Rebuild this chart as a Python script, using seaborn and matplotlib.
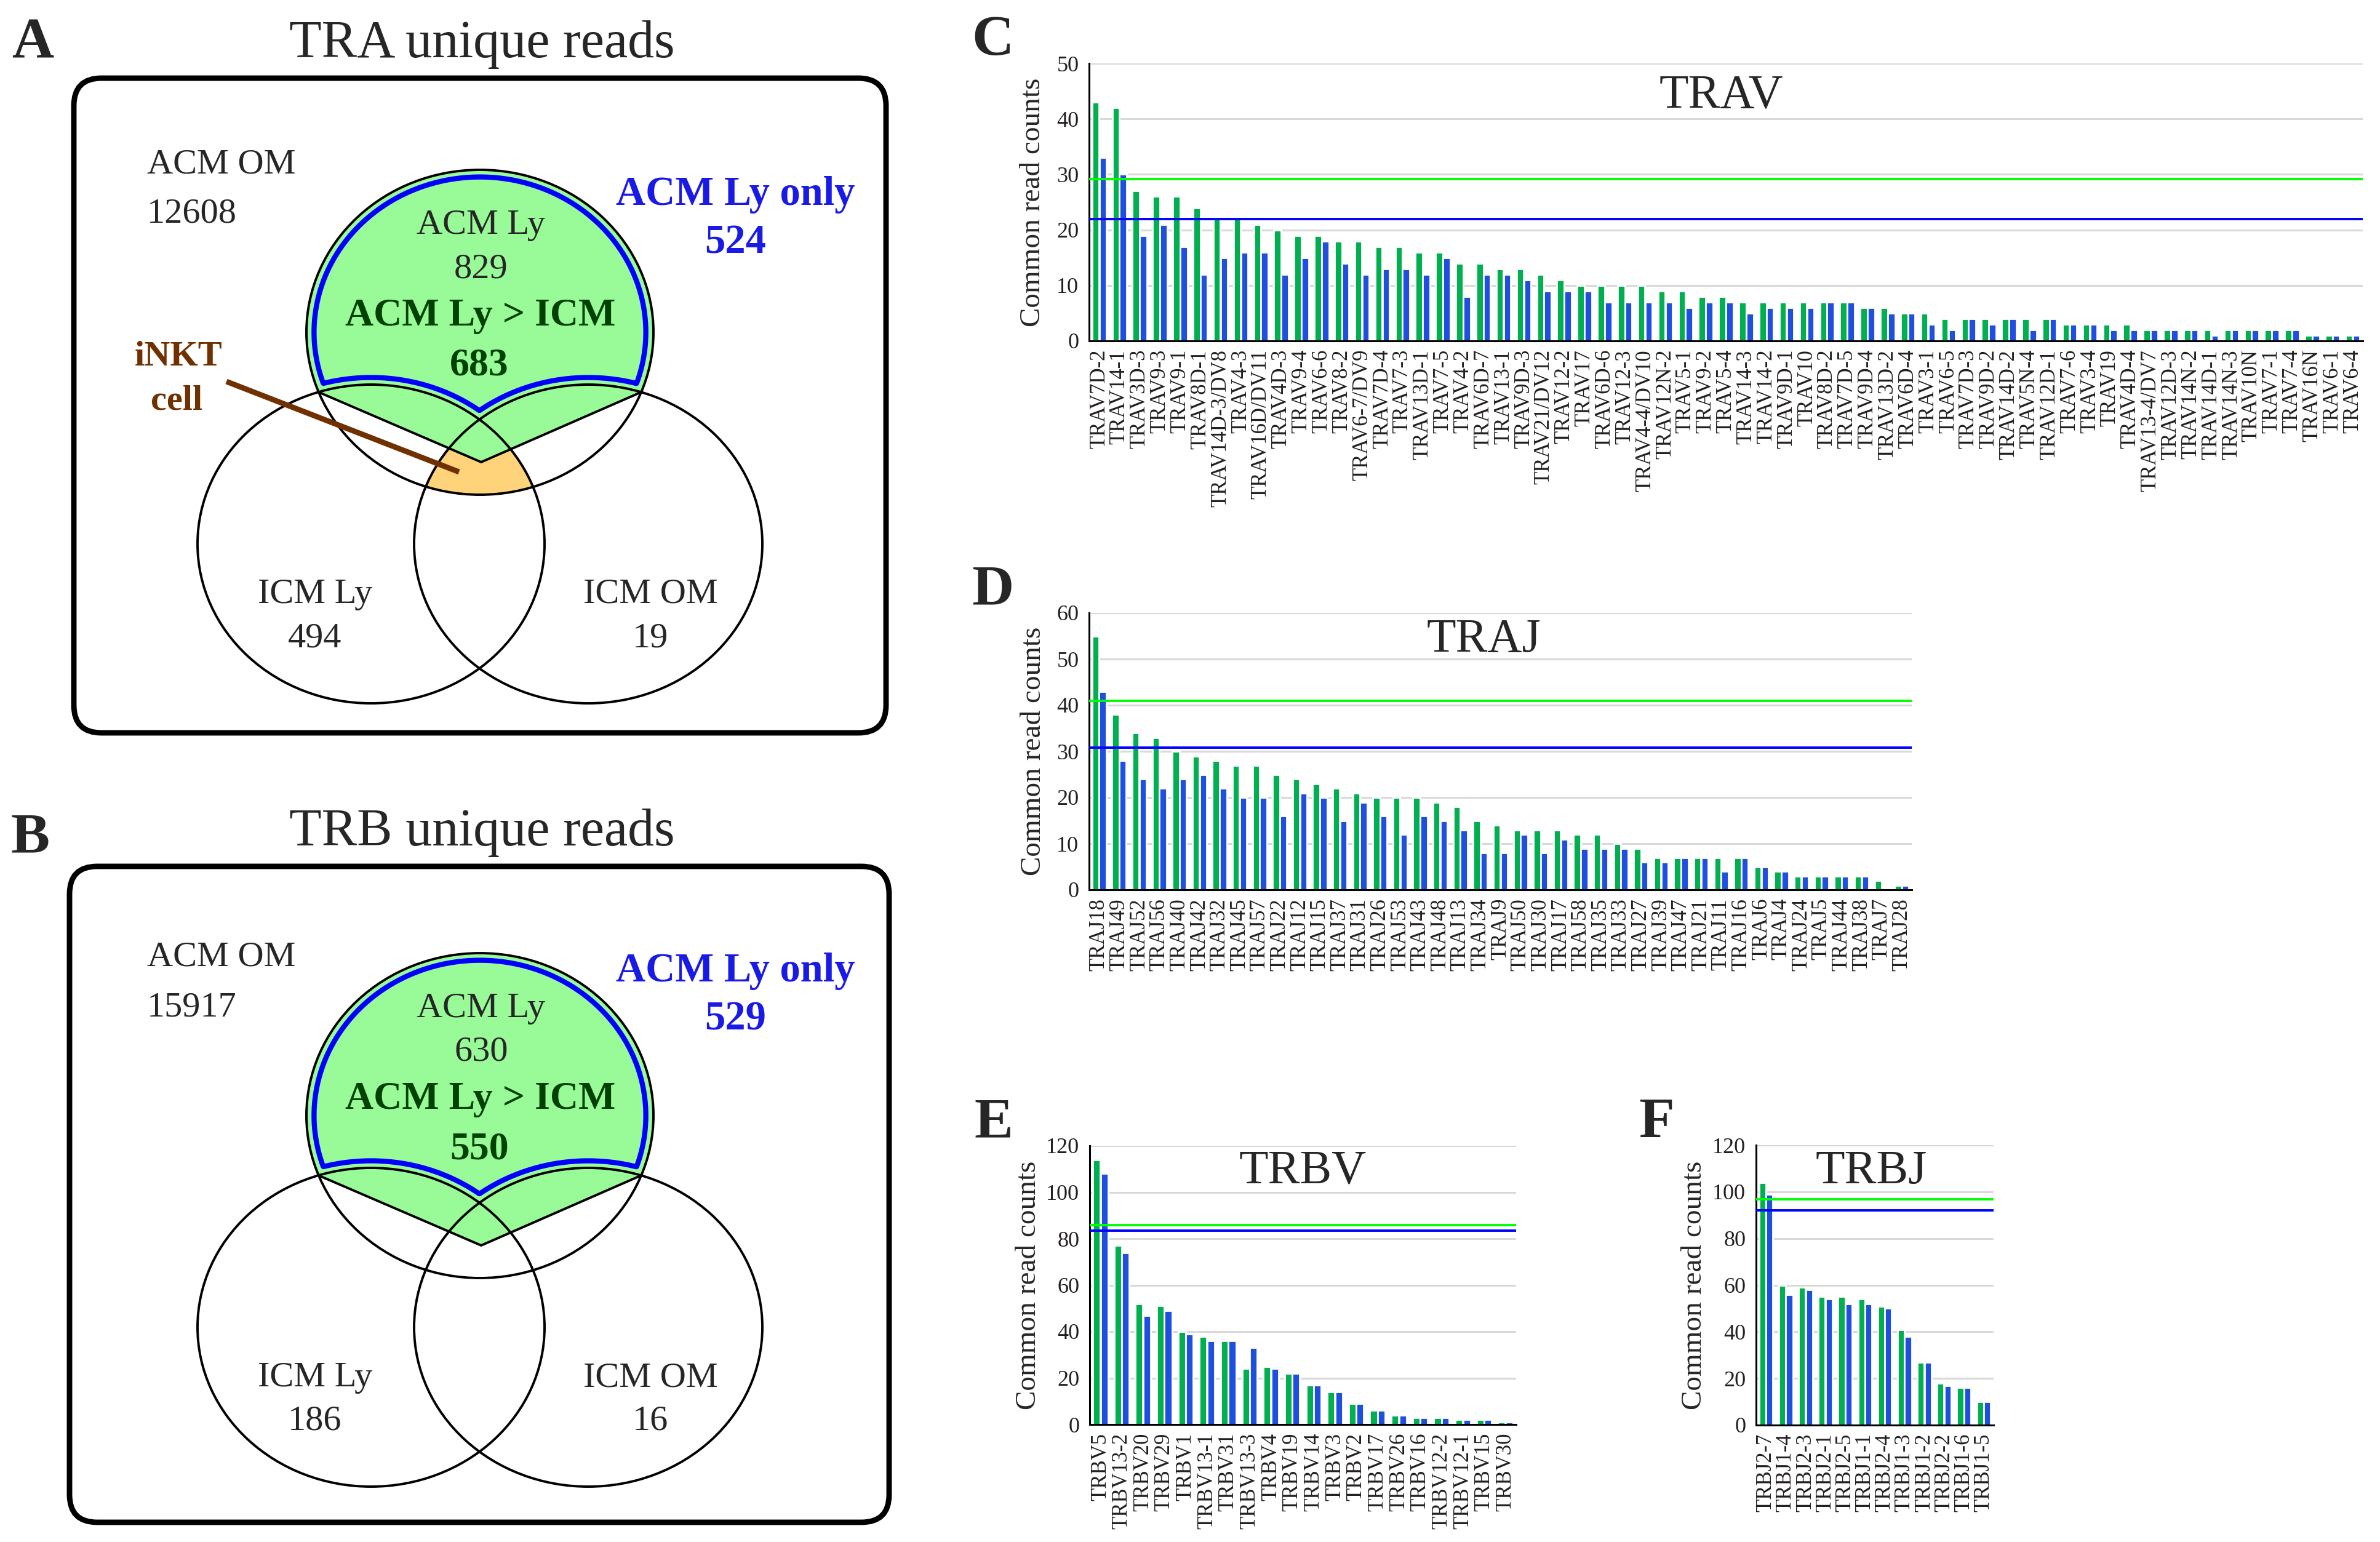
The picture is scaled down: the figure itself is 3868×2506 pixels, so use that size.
import numpy as np
import pandas as pd
import matplotlib
matplotlib.use('Agg')
import matplotlib.pyplot as plt
import seaborn as sns
from matplotlib.patches import Ellipse, FancyBboxPatch

# counts
tra_counts = [12608, 524, 829, 683, 494, 19]   # ACM OM, ACM Ly only, ACM Ly, ACM Ly > ICM, ICM Ly, ICM OM
trb_counts = [15917, 529, 630, 550, 186, 16]

trav_genes = ['TRAV7D-2', 'TRAV14-1', 'TRAV3D-3', 'TRAV9-3', 'TRAV9-1', 'TRAV8D-1', 'TRAV14D-3/DV8',
              'TRAV4-3', 'TRAV16D/DV11', 'TRAV4D-3', 'TRAV9-4', 'TRAV6-6', 'TRAV8-2', 'TRAV6-7/DV9',
              'TRAV7D-4', 'TRAV7-3', 'TRAV13D-1', 'TRAV7-5', 'TRAV4-2', 'TRAV6D-7', 'TRAV13-1', 'TRAV9D-3',
              'TRAV21/DV12', 'TRAV12-2', 'TRAV17', 'TRAV6D-6', 'TRAV12-3', 'TRAV4-4/DV10', 'TRAV12N-2',
              'TRAV5-1', 'TRAV9-2', 'TRAV5-4', 'TRAV14-3', 'TRAV14-2', 'TRAV9D-1', 'TRAV10', 'TRAV8D-2',
              'TRAV7D-5', 'TRAV9D-4', 'TRAV13D-2', 'TRAV6D-4', 'TRAV3-1', 'TRAV6-5', 'TRAV7D-3', 'TRAV9D-2',
              'TRAV14D-2', 'TRAV5N-4', 'TRAV12D-1', 'TRAV7-6', 'TRAV3-4', 'TRAV19', 'TRAV4D-4',
              'TRAV13-4/DV7', 'TRAV12D-3', 'TRAV14N-2', 'TRAV14D-1', 'TRAV14N-3', 'TRAV10N', 'TRAV7-1',
              'TRAV7-4', 'TRAV16N', 'TRAV6-1', 'TRAV6-4']
trav_acm = [43, 42, 27, 26, 26, 24, 22, 22, 21, 20, 19, 19, 18, 18, 17, 17, 16, 16, 14, 14, 13, 13, 12, 11,
            10, 10, 10, 10, 9, 9, 8, 8, 7, 7, 7, 7, 7, 7, 6, 6, 5, 5, 4, 4, 4, 4, 4, 4, 3, 3, 3, 3, 2, 2,
            2, 2, 2, 2, 2, 2, 1, 1, 1]
trav_icm = [33, 30, 19, 21, 17, 12, 15, 16, 16, 12, 15, 18, 14, 12, 13, 13, 12, 15, 8, 12, 12, 11, 9, 9,
            9, 7, 7, 7, 7, 6, 7, 7, 5, 6, 6, 6, 7, 7, 6, 5, 5, 3, 2, 4, 3, 4, 2, 4, 3, 3, 2, 2, 2, 2,
            2, 1, 2, 2, 2, 2, 1, 1, 1]
trav_lines = [29.2, 22.0]

traj_genes = ['TRAJ18', 'TRAJ49', 'TRAJ52', 'TRAJ56', 'TRAJ40', 'TRAJ42', 'TRAJ32', 'TRAJ45', 'TRAJ57',
              'TRAJ22', 'TRAJ12', 'TRAJ15', 'TRAJ37', 'TRAJ31', 'TRAJ26', 'TRAJ53', 'TRAJ43', 'TRAJ48',
              'TRAJ13', 'TRAJ34', 'TRAJ9', 'TRAJ50', 'TRAJ30', 'TRAJ17', 'TRAJ58', 'TRAJ35', 'TRAJ33',
              'TRAJ27', 'TRAJ39', 'TRAJ47', 'TRAJ21', 'TRAJ11', 'TRAJ16', 'TRAJ6', 'TRAJ4', 'TRAJ24',
              'TRAJ5', 'TRAJ44', 'TRAJ38', 'TRAJ7', 'TRAJ28']
traj_acm = [55, 38, 34, 33, 30, 29, 28, 27, 27, 25, 24, 23, 22, 21, 20, 20, 20, 19, 18, 15, 14, 13, 13, 13,
            12, 12, 10, 9, 7, 7, 7, 7, 7, 5, 4, 3, 3, 3, 3, 2, 1]
traj_icm = [43, 28, 24, 22, 24, 25, 22, 20, 20, 16, 21, 20, 15, 19, 16, 12, 16, 15, 13, 8, 8, 12, 8, 11,
            9, 9, 9, 6, 6, 7, 7, 4, 7, 5, 4, 3, 3, 3, 3, 0, 1]
traj_lines = [41.0, 30.8]

trbv_genes = ['TRBV5', 'TRBV13-2', 'TRBV20', 'TRBV29', 'TRBV1', 'TRBV13-1', 'TRBV31', 'TRBV13-3', 'TRBV4',
              'TRBV19', 'TRBV14', 'TRBV3', 'TRBV2', 'TRBV17', 'TRBV26', 'TRBV16', 'TRBV12-2', 'TRBV12-1',
              'TRBV15', 'TRBV30']
trbv_acm = [114, 77, 52, 51, 40, 38, 36, 24, 25, 22, 17, 14, 9, 6, 4, 3, 3, 2, 2, 1]
trbv_icm = [108, 74, 47, 49, 39, 36, 36, 33, 24, 22, 17, 14, 9, 6, 4, 3, 3, 2, 2, 1]
trbv_lines = [85.7, 83.4]

trbj_genes = ['TRBJ2-7', 'TRBJ1-4', 'TRBJ2-3', 'TRBJ2-1', 'TRBJ2-5', 'TRBJ1-1', 'TRBJ2-4', 'TRBJ1-3',
              'TRBJ1-2', 'TRBJ2-2', 'TRBJ1-6', 'TRBJ1-5']
trbj_acm = [104, 60, 59, 55, 55, 54, 51, 41, 27, 18, 16, 10]
trbj_icm = [99, 56, 58, 54, 52, 52, 50, 38, 27, 17, 16, 10]
trbj_lines = [96.7, 92.0]

W, H = 3868, 2506
DPI = 200

BAR_GREEN = '#00B050'
BAR_BLUE = '#1F4FDF'
LINE_GREEN = '#00FF00'
LINE_BLUE = '#0000FF'
FILL_GREEN = '#98FB98'
FILL_ORANGE = '#FFD37A'
TXT_BLUE = '#1A1AE6'
TXT_DKGREEN = '#004000'
BROWN = '#703000'

sns.set_style('white')
plt.rcParams['font.family'] = ['Liberation Serif', 'DejaVu Serif']

fig = plt.figure(figsize=(W / DPI, H / DPI), dpi=DPI)
bg = fig.add_axes([0, 0, 1, 1])
bg.set_xlim(0, W)
bg.set_ylim(H, 0)
bg.axis('off')


def ell_h(X, Y, e):
    # approx signed distance to ellipse, positive inside
    cx, cy, rx, ry = e
    return (1 - np.sqrt(((X - cx) / rx) ** 2 + ((Y - cy) / ry) ** 2)) * (rx + ry) / 2


def crossing(e, other, side):
    t = np.linspace(0, 2 * np.pi, 7200)
    px = e[0] + e[2] * np.cos(t)
    py = e[1] + e[3] * np.sin(t)
    q = ((px - other[0]) / other[2]) ** 2 + ((py - other[1]) / other[3]) ** 2 - 1
    idx = np.where(np.diff(np.sign(q)) != 0)[0]
    pts = [(px[i], py[i]) for i in idx]
    return min(pts) if side == 'left' else max(pts)


def draw_venn(dy, box, title, title_y, counts, inkt, om_dy=0, only_dy=0):
    bx0, by0, bx1, by1 = box
    bg.add_patch(FancyBboxPatch((bx0, by0), bx1 - bx0, by1 - by0,
                                boxstyle='round,pad=0,rounding_size=45',
                                fill=False, ec='black', lw=3.2, zorder=2))
    bg.text(783, title_y, title, fontsize=31, ha='center', va='baseline')

    top = (780, 540 + dy, 282, 264)
    bl = (603, 884 + dy, 282, 259)
    br = (956, 884 + dy, 283, 259)
    vx, vy = 782, 751 + dy

    xs = np.linspace(420, 1140, 900)
    ys = np.linspace(240 + dy, 1200 + dy, 1100)
    X, Y = np.meshgrid(xs, ys)
    h_top, h_bl, h_br = ell_h(X, Y, top), ell_h(X, Y, bl), ell_h(X, Y, br)

    xl, yl = crossing(top, bl, 'left')
    xr, yr = crossing(top, br, 'right')
    V = np.where(X < vx, vy + (X - vx) * (vy - yl) / (vx - xl),
                 vy + (X - vx) * (yr - vy) / (xr - vx))
    vf = V - Y

    green = np.minimum(h_top, vf)
    bg.contourf(X, Y, green, levels=[0, 1e5], colors=[FILL_GREEN], zorder=1)
    if inkt:
        orange = np.minimum(np.minimum(h_top, h_bl), np.minimum(h_br, -vf))
        bg.contourf(X, Y, orange, levels=[0, 1e5], colors=[FILL_ORANGE], zorder=1)

    for e in (top, bl, br):
        bg.add_patch(Ellipse((e[0], e[1]), 2 * e[2], 2 * e[3], fill=False,
                             ec='black', lw=1.4, zorder=3))
    bg.plot([xl, vx, xr], [yl, vy, yr], color='black', lw=1.4, zorder=3)

    only = np.minimum(h_top, np.minimum(-h_bl, -h_br))
    bg.contour(X, Y, only, levels=[12], colors=[LINE_BLUE], linewidths=3.0, zorder=4)

    acm_om, acm_only, acm_ly, acm_gt, icm_ly, icm_om = counts
    bg.text(239, 281 + dy + om_dy, 'ACM OM', fontsize=21, ha='left', va='baseline')
    bg.text(239, 362 + dy + om_dy, str(acm_om), fontsize=21, ha='left', va='baseline')
    bg.text(1195, 333 + dy + only_dy, 'ACM Ly only', fontsize=24, fontweight='bold',
            color=TXT_BLUE, ha='center', va='baseline')
    bg.text(1195, 412 + dy + only_dy, str(acm_only), fontsize=24, fontweight='bold',
            color=TXT_BLUE, ha='center', va='baseline')
    bg.text(782, 380 + dy, 'ACM Ly', fontsize=21, ha='center', va='baseline', zorder=5)
    bg.text(782, 451 + dy, str(acm_ly), fontsize=21, ha='center', va='baseline', zorder=5)
    bg.text(781, 529 + dy, 'ACM Ly > ICM', fontsize=23, fontweight='bold',
            color=TXT_DKGREEN, ha='center', va='baseline', zorder=5)
    bg.text(779, 610 + dy, str(acm_gt), fontsize=23, fontweight='bold',
            color=TXT_DKGREEN, ha='center', va='baseline', zorder=5)
    bg.text(512, 980 + dy, 'ICM Ly', fontsize=21, ha='center', va='baseline')
    bg.text(512, 1051 + dy, str(icm_ly), fontsize=21, ha='center', va='baseline')
    bg.text(1057, 980 + dy, 'ICM OM', fontsize=21, ha='center', va='baseline')
    bg.text(1057, 1051 + dy, str(icm_om), fontsize=21, ha='center', va='baseline')

    if inkt:
        bg.plot([368, 746], [620 + dy, 767 + dy], color=BROWN, lw=3.2,
                solid_capstyle='butt', zorder=6)
        bg.text(290, 594 + dy, 'iNKT', fontsize=21, fontweight='bold', color=BROWN,
                ha='center', va='baseline')
        bg.text(287, 665 + dy, 'cell', fontsize=21, fontweight='bold', color=BROWN,
                ha='center', va='baseline')


def bar_panel(box, genes, acm, icm, lines, ymax, step, title, title_xy, ylab_x):
    x0, y0, x1, y1 = box
    ax = fig.add_axes([x0 / W, 1 - y1 / H, (x1 - x0) / W, (y1 - y0) / H])
    n = len(genes)
    df = pd.DataFrame({'gene': genes * 2,
                       'group': ['ACM Ly'] * n + ['ICM Ly'] * n,
                       'count': acm + icm})
    sns.barplot(data=df, x='gene', y='count', hue='group', order=genes,
                hue_order=['ACM Ly', 'ICM Ly'], palette=[BAR_GREEN, BAR_BLUE],
                width=0.72, gap=0.03, saturation=1, errorbar=None, legend=False, ax=ax)
    ax.axhline(lines[0], color=LINE_GREEN, lw=1.4, zorder=3)
    ax.axhline(lines[1], color=LINE_BLUE, lw=1.4, zorder=3)
    ax.set_ylim(0, ymax)
    ax.set_yticks(np.arange(0, ymax + 1, step))
    ax.set_xlim(-0.5, n - 0.5)
    ax.grid(axis='y', color='#D9D9D9', lw=1.1)
    ax.set_axisbelow(True)
    ax.patch.set_visible(False)
    for s in ['top', 'right']:
        ax.spines[s].set_visible(False)
    for s in ['left', 'bottom']:
        ax.spines[s].set_color('black')
        ax.spines[s].set_linewidth(1.1)
    ax.tick_params(axis='x', labelrotation=90, labelsize=12.5, pad=5, length=0,
                   labelcolor='#231F20')
    ax.tick_params(axis='y', labelsize=13, pad=6, length=0, labelcolor='#231F20')
    ax.set_xlabel('')
    ax.set_ylabel('Common read counts', fontsize=17)
    ax.yaxis.set_label_coords((ylab_x - x0) / (x1 - x0), 0.5)
    ax.text((title_xy[0] - x0) / (x1 - x0), (y1 - title_xy[1]) / (y1 - y0), title,
            transform=ax.transAxes, fontsize=28, ha='center', va='baseline')
    return ax


draw_venn(0, (120, 127, 1440, 1191), 'TRA unique reads', 93, tra_counts, True)
draw_venn(1273, (113, 1408, 1445, 2474), 'TRB unique reads', 1374, trb_counts, False,
          om_dy=16, only_dy=-11)

bar_panel((1770, 103, 3840, 554), trav_genes, trav_acm, trav_icm, trav_lines, 50, 10,
          'TRAV', (2797, 175), 1700)
bar_panel((1770, 996, 3107, 1446), traj_genes, traj_acm, traj_icm, traj_lines, 60, 10,
          'TRAJ', (2411, 1059), 1701)
bar_panel((1771, 1862, 2464, 2315), trbv_genes, trbv_acm, trbv_icm, trbv_lines, 120, 20,
          'TRBV', (2117, 1923), 1693)
bar_panel((2854, 1861, 3240, 2316), trbj_genes, trbj_acm, trbj_icm, trbj_lines, 120, 20,
          'TRBJ', (3041, 1923), 2775)

# panel letters
for letter, x, y in [('A', 19, 93), ('B', 17, 1385), ('C', 1579, 89),
                     ('D', 1579, 982), ('E', 1583, 1848), ('F', 2663, 1848)]:
    bg.text(x, y, letter, fontsize=34, fontweight='bold', ha='left', va='baseline')

fig.savefig('out.png', dpi=DPI)
